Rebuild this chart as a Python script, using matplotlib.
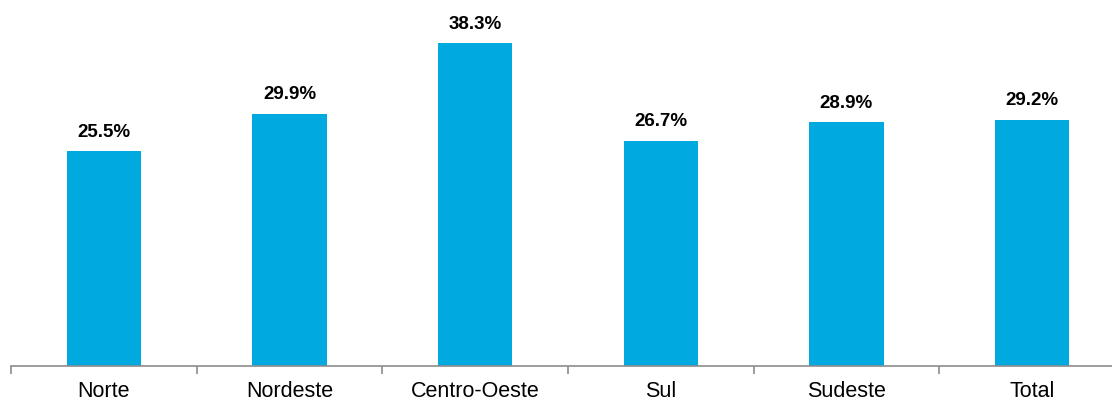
import matplotlib
matplotlib.use("Agg")
import matplotlib.pyplot as plt
import numpy as np

regions = ["Norte", "Nordeste", "Centro-Oeste", "Sul", "Sudeste", "Total"]
shares = [25.5, 29.9, 38.3, 26.7, 28.9, 29.2]
value_labels = ["25.5%", "29.9%", "38.3%", "26.7%", "28.9%", "29.2%"]

plt.rcParams["font.family"] = ["Liberation Sans", "DejaVu Sans"]

fig = plt.figure(figsize=(11.12, 4.0), dpi=100)
# the plot area runs slightly past the right edge of the figure
ax = fig.add_axes([11 / 1112, 34 / 400, 1114 / 1112, 366 / 400])

x = np.arange(len(regions))
bars = ax.bar(x, shares, width=0.4, color="#00A9E0", zorder=2)

for xi, v, lab in zip(x, shares, value_labels):
    ax.annotate(lab, (xi, v), xytext=(0, 7.5), textcoords="offset points",
                ha="center", va="bottom", fontsize=13.5, fontweight="bold",
                color="black")

ax.set_xlim(-0.5, len(regions) - 0.5)
ax.set_ylim(0, 43.4)

# category labels at bar centres, tick marks at category boundaries
ax.set_xticks(x)
ax.set_xticklabels(regions, fontsize=15.5)
ax.tick_params(axis="x", which="major", length=0, pad=10.5)
ax.set_xticks(np.arange(-0.5, len(regions)), minor=True)
ax.tick_params(axis="x", which="minor", length=6, width=1.2, color="#8c8c8c",
               direction="out")

ax.set_yticks([])
for side in ["top", "right", "left"]:
    ax.spines[side].set_visible(False)
ax.spines["bottom"].set_color("#8c8c8c")
ax.spines["bottom"].set_linewidth(1.2)

fig.savefig("out.png", dpi=100)
